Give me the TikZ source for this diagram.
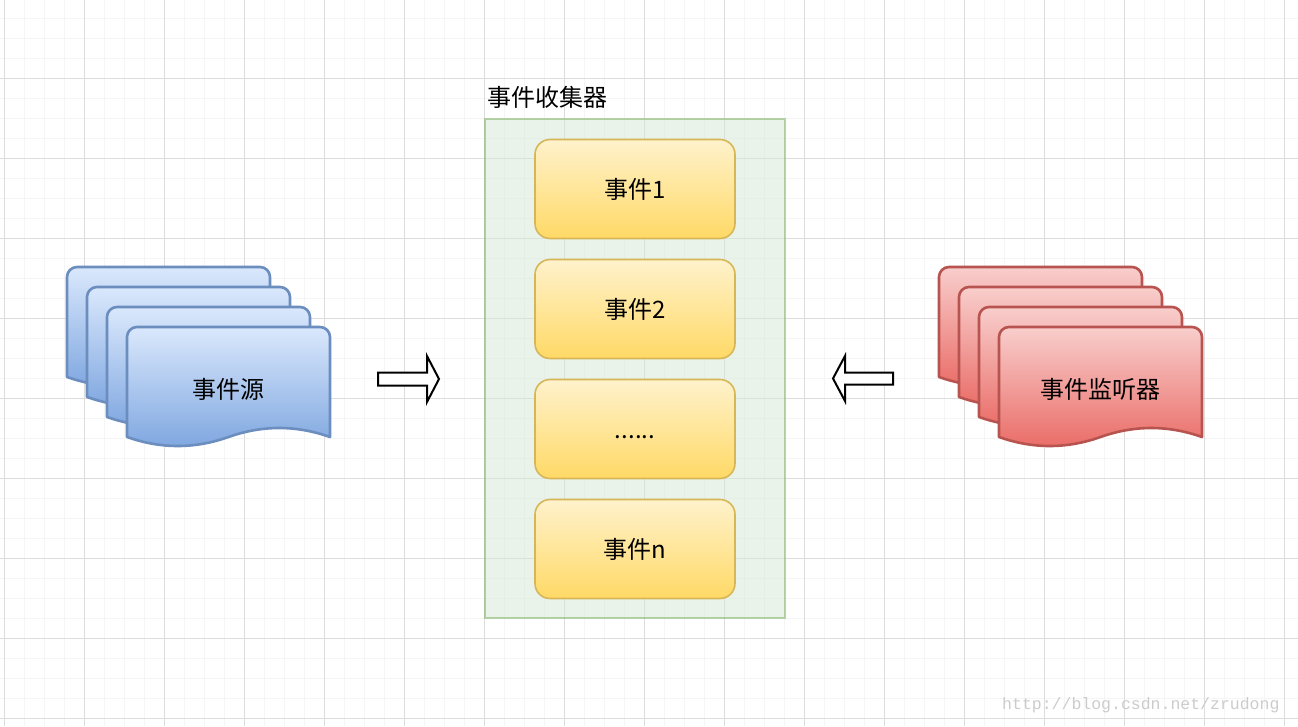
\documentclass[tikz,border=0pt]{standalone}
\usepackage{fontspec}
\newfontfamily\cjk{Noto Sans CJK SC}
\newfontfamily\wmfont{Liberation Mono}
\definecolor{gmajor}{HTML}{DDDDDD}
\definecolor{gminor}{HTML}{F5F5F5}
\definecolor{bluetop}{HTML}{DAE8FC}
\definecolor{bluebot}{HTML}{7EA6E0}
\definecolor{bluestroke}{HTML}{6C8EBF}
\definecolor{redtop}{HTML}{F8CECC}
\definecolor{redbot}{HTML}{EA6B66}
\definecolor{redstroke}{HTML}{B85450}
\definecolor{yeltop}{HTML}{FFF2CC}
\definecolor{yelbot}{HTML}{FFD966}
\definecolor{yelstroke}{HTML}{D6B656}
\definecolor{grnfill}{HTML}{D5E8D4}
\definecolor{grnstroke}{HTML}{82B366}
\definecolor{wmgray}{HTML}{CCCCCC}
\newcommand\mydoc[3]{%
  \path[#3, shift={(#1,#2)}] (0,110) -- (0,10) .. controls (0,4.5) and (4.5,0) .. (10,0)
    -- (193,0) .. controls (198.5,0) and (203,4.5) .. (203,10) -- (203,110)
    .. controls (169.17,98) and (135.33,98) .. (101.5,110)
    .. controls (67.67,122) and (33.83,122) .. (0,110) -- cycle;}
\begin{document}
\begin{tikzpicture}[x=1pt,y=-1pt,
  minorgrid/.style={draw=gminor, line width=1pt},
  majorgrid/.style={draw=gmajor, line width=1pt},
  bluedoc/.style={draw=bluestroke, line width=2.6pt, line join=round, top color=bluetop, bottom color=bluebot},
  reddoc/.style={draw=redstroke, line width=2.6pt, line join=round, top color=redtop, bottom color=redbot},
  evtbox/.style={draw=yelstroke, line width=1.6pt, rounded corners=15pt, top color=yeltop, bottom color=yelbot,
    minimum width=200pt, minimum height=99pt, inner sep=0pt, font=\cjk\fontsize{24}{28}\selectfont},
  container/.style={draw=grnstroke, draw opacity=0.55, fill=grnfill, fill opacity=0.5, line width=1.6pt,
    minimum width=300pt, minimum height=499pt, inner sep=0pt},
  label/.style={inner sep=0pt, font=\cjk\fontsize{24}{28}\selectfont},
  blockarrow/.style={draw=black, fill=white, line width=2pt, miter limit=10}
]
\useasboundingbox (0,0) rectangle (1298,726);
\fill[white] (0,0) rectangle (1298,726);
% grid
\foreach \i in {0,...,64} \draw[minorgrid] ({4+20*\i},0) -- ({4+20*\i},726);
\foreach \j in {1,...,36} \draw[minorgrid] (0,{-2+20*\j}) -- (1298,{-2+20*\j});
\foreach \i in {0,...,16} \draw[majorgrid] ({4+80*\i},0) -- ({4+80*\i},726);
\foreach \j in {0,...,8} \draw[majorgrid] (0,{78+80*\j}) -- (1298,{78+80*\j});
% left stack
\mydoc{67}{267}{bluedoc}
\mydoc{87}{287}{bluedoc}
\mydoc{107}{307}{bluedoc}
\mydoc{127}{327}{bluedoc}
\node[label] (src) at (228.5,389) {事件源};
% right stack
\mydoc{939}{267}{reddoc}
\mydoc{959}{287}{reddoc}
\mydoc{979}{307}{reddoc}
\mydoc{999}{327}{reddoc}
\node[label] (lis) at (1100.5,389) {事件监听器};
% collector
\node[container] (coll) at (635,368.5) {};
\node[label, anchor=west] (colltitle) at (487,97) {事件收集器};
\node[evtbox] (e1) at (635,189) {事件1};
\node[evtbox] (e2) at (635,309) {事件2};
\node[evtbox] (e3) at (635,429) {......\vphantom{事}};
\node[evtbox] (en) at (635,549) {事件n};
% block arrows
\path[blockarrow] (378,372.5) -- (427,372.5) -- (427,356) -- (439,379) -- (427,402) -- (427,385.5) -- (378,385.5) -- cycle;
\path[blockarrow] (893,372.5) -- (845,372.5) -- (845,356) -- (833,378.5) -- (845,401) -- (845,384.5) -- (893,384.5) -- cycle;
% watermark
\node[anchor=west, inner sep=0pt, text=wmgray, font=\wmfont\fontsize{16.5}{18}\selectfont] (wm) at (1002,705) {http://blog.csdn.net/zrudong};
\end{tikzpicture}
\end{document}
